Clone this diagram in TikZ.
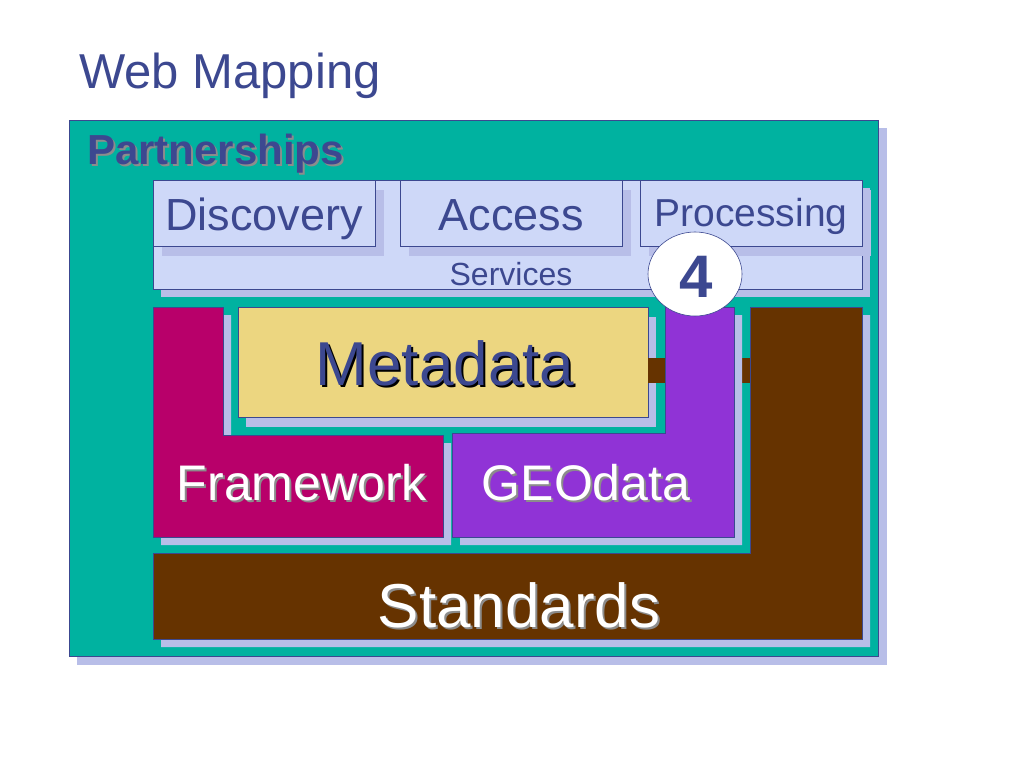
\documentclass[tikz,border=0pt]{standalone}
\usepackage{fontspec}
\setmainfont{Liberation Sans}
\usetikzlibrary{positioning, calc, shapes}

\definecolor{navy}{RGB}{60,72,144}
\definecolor{sea}{RGB}{0,178,160}
\definecolor{lilac}{RGB}{184,190,232}
\definecolor{paleblue}{RGB}{206,216,248}
\definecolor{khaki}{RGB}{236,214,128}
\definecolor{magenta0}{RGB}{184,0,106}
\definecolor{violet0}{RGB}{144,51,214}
\definecolor{brown0}{RGB}{102,51,0}

\tikzset{
  panel/.style={draw=navy, line width=0.8pt},
  drop/.style={fill=lilac, draw=none},
  txt/.style={anchor=base, inner sep=0pt},
  txtshadow/.style={txt, text=black!45},
}

\begin{document}
\begin{tikzpicture}[x=1pt, y=-1pt]
    \useasboundingbox[fill=white] (0,0) rectangle (1024,768);
    % title
    \node[txt, anchor=base west, text=navy, font=\fontsize{49}{50}\selectfont] (title) at (79,88) {Web Mapping};
    % outer frame
    \fill[drop] (77,128) rectangle (887,665);
    \draw[panel, fill=sea] (69,120) rectangle (878,656);
    \node[txtshadow, anchor=base west, font=\bfseries\fontsize{42}{44}\selectfont] (part-s) at (89,166) {Partnerships};
    \node[txt, anchor=base west, text=navy, font=\bfseries\fontsize{42}{44}\selectfont] (part) at (87,164) {Partnerships};
    % services
    \fill[drop] (161,188) rectangle (870,297);
    \draw[panel, fill=paleblue] (153,180) rectangle (862,289);
    \node[txt, text=navy, font=\fontsize{32}{34}\selectfont] (serv) at (511,285) {Services};
    \foreach \n/\x/\y/\s/\t in {disc/153/230/45/Discovery, acc/400/230/45/Access, proc/640/226/39/Processing} {
      \fill[drop] (\x+9,190) rectangle (\x+231,256);
      \draw[panel, fill=paleblue] (\x,180) rectangle (\x+222,246);
      \node[txt, text=navy, font=\fontsize{\s}{\s}\selectfont] (\n) at (\x+111,\y) {\t};
    }
    % standards
    \fill[drop] (758,315) -- (870,315) -- (870,647) -- (161,647) -- (161,561) -- (758,561) -- cycle;
    \draw[panel, fill=brown0, line width=0.5pt] (750,307) -- (862,307) -- (862,639) -- (153,639) -- (153,553) -- (750,553) -- cycle;
    % framework
    \fill[drop] (161,315) -- (231,315) -- (231,443) -- (451,443) -- (451,545) -- (161,545) -- cycle;
    \draw[panel, fill=magenta0, line width=0.5pt] (153,307) -- (223,307) -- (223,435) -- (443,435) -- (443,537) -- (153,537) -- cycle;
    % metadata
    \fill[drop] (246,317) rectangle (656,427);
    \draw[panel, fill=khaki] (238,307) rectangle (648,417);
    \fill[brown0] (648,358) rectangle (750,383);
    % geodata
    \fill[drop] (673,315) -- (742,315) -- (742,545) -- (460,545) -- (460,441) -- (673,441) -- cycle;
    \draw[panel, fill=violet0, line width=0.5pt] (665,307) -- (734,307) -- (734,537) -- (452,537) -- (452,433) -- (665,433) -- cycle;
    % labels
    \node[txt, text=black, font=\fontsize{62}{62}\selectfont] (meta-s) at (447,387) {Metadata};
    \node[txt, text=navy, font=\fontsize{62}{62}\selectfont] (meta) at (445,385) {Metadata};
    \foreach \n/\x/\y/\s/\t in {frame/302/500/50/Framework, geo/586/500/50/GEOdata, std/519/627/62/Standards} {
      \node[txtshadow, font=\fontsize{\s}{\s}\selectfont] (\n-s) at (\x+2,\y+2) {\t};
      \node[txt, text=white, font=\fontsize{\s}{\s}\selectfont] (\n) at (\x,\y) {\t};
    }
    % step marker
    \draw[navy, fill=white, line width=0.6pt] (695,274) ellipse [x radius=47, y radius=42];
    \node[txt, text=navy, font=\bfseries\fontsize{60}{60}\selectfont] (four) at (696,297) {4};
\end{tikzpicture}
\end{document}
